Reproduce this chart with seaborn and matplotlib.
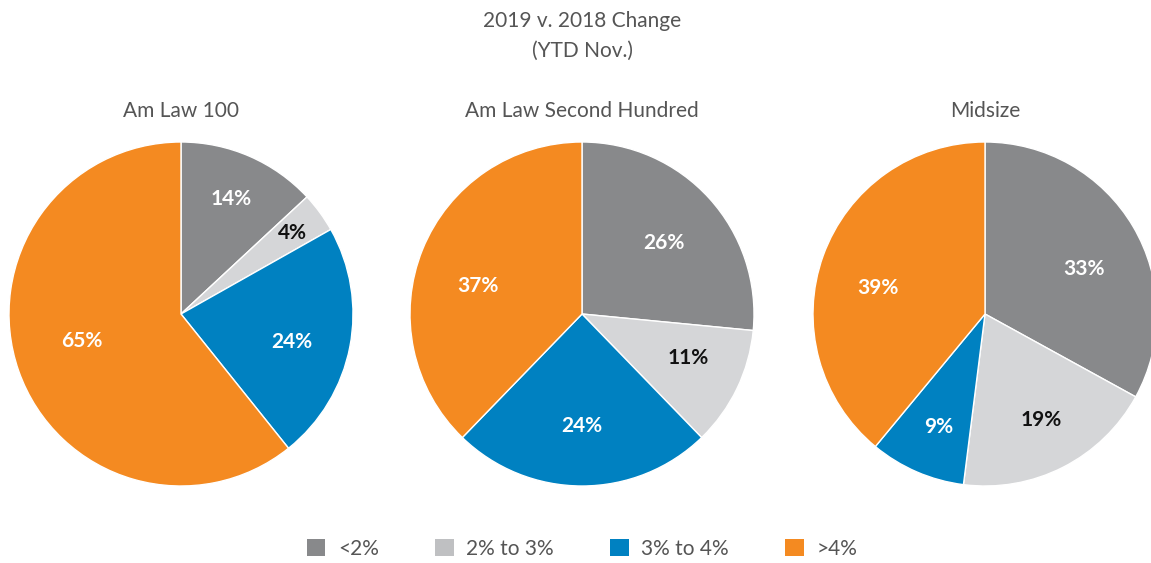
import matplotlib
matplotlib.use("Agg")
import matplotlib.pyplot as plt
from matplotlib.patches import Patch
import numpy as np
import seaborn as sns

# data
groups = ["Am Law 100", "Am Law Second Hundred", "Midsize"]
categories = ["<2%", "2% to 3%", "3% to 4%", ">4%"]
am_law_100 = [14, 4, 24, 65]
second_hundred = [26, 11, 24, 37]
midsize = [33, 19, 9, 39]
values = [am_law_100, second_hundred, midsize]

sns.set_theme(style="white")
plt.rcParams["font.family"] = ["Lato", "DejaVu Sans"]

palette = sns.color_palette(["#88898b", "#d5d6d8", "#0081c1", "#f48a21"])
legend_colors = ["#88898b", "#bfc0c2", "#0081c1", "#f48a21"]
label_colors = ["white", "#111111", "white", "white"]
text_color = "#555555"

# label placement per slice: distance (fraction of radius), angle shift (deg)
label_dist = [[0.73, 0.80, 0.665, 0.60],
              [0.63, 0.67, 0.65, 0.625],
              [0.63, 0.70, 0.71, 0.64]]
label_shift = [[0, 0, -3, -4],
               [-1, 3, 0, 7],
               [-6, 1, 1, 6]]

W, H = 1151, 563
fig = plt.figure(figsize=(W / 100, H / 100), dpi=100)

centers_x = [181, 582, 985]
center_y = 314
radius = 172

for i, (name, vals) in enumerate(zip(groups, values)):
    ax = fig.add_axes([(centers_x[i] - radius) / W, (H - center_y - radius) / H,
                       2 * radius / W, 2 * radius / H])
    wedges, _ = ax.pie(vals, colors=palette, startangle=90, counterclock=False,
                       radius=1, wedgeprops=dict(edgecolor="white", linewidth=1))
    for j, w in enumerate(wedges):
        ang = np.deg2rad((w.theta1 + w.theta2) / 2 + label_shift[i][j])
        d = label_dist[i][j]
        ax.text(d * np.cos(ang), d * np.sin(ang), f"{vals[j]}%",
                ha="center", va="center", fontsize=15, fontweight="bold",
                color=label_colors[j])
    ax.set_xlim(-1, 1)
    ax.set_ylim(-1, 1)
    ax.set_aspect("equal")
    ax.axis("off")
    fig.text(centers_x[i] / W, 1 - 111 / H, name, ha="center", va="center",
             fontsize=15, color=text_color)

fig.text(582 / W, 1 - 21 / H, "2019 v. 2018 Change", ha="center", va="center",
         fontsize=15, color=text_color)
fig.text(582 / W, 1 - 51 / H, "(YTD Nov.)", ha="center", va="center",
         fontsize=15, color=text_color)

handles = [Patch(facecolor=c, edgecolor="none") for c in legend_colors]
fig.legend(handles, categories, loc="center", bbox_to_anchor=(582 / W, 1 - 549 / H),
           ncol=4, frameon=False, fontsize=15, handlelength=0.9, handleheight=0.9,
           handletextpad=0.6, columnspacing=2.7, labelcolor=text_color)

fig.savefig("out.png", dpi=100)
